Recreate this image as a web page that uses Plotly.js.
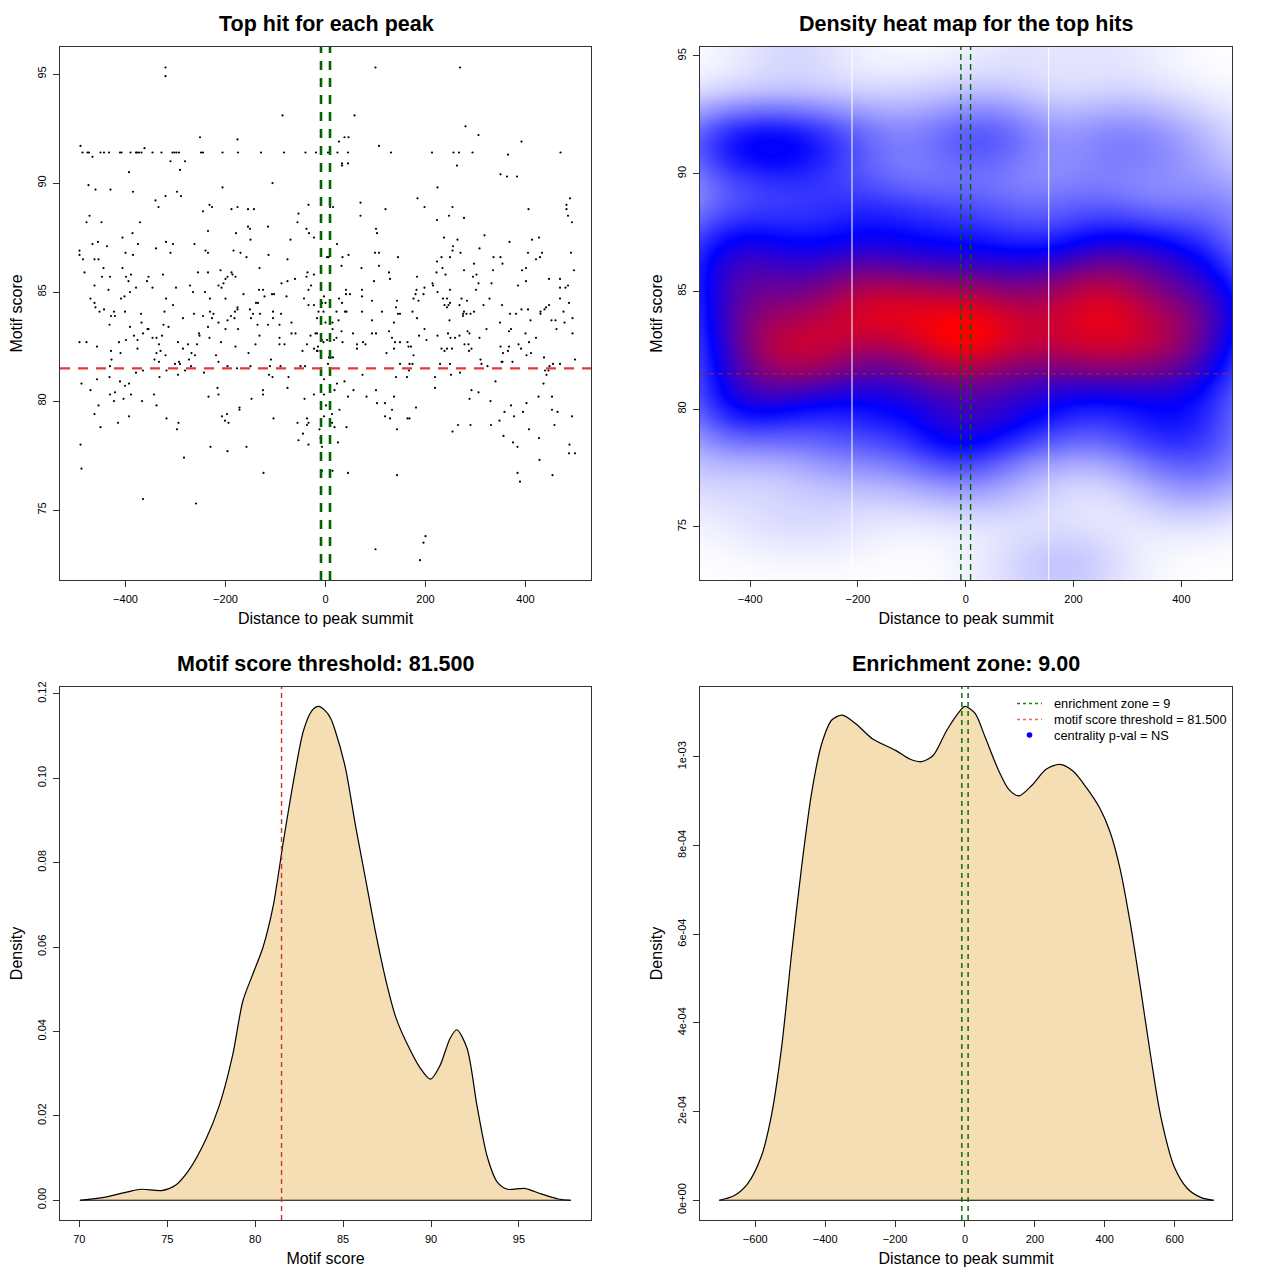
<!DOCTYPE html>
<html><head><meta charset="utf-8">
<script src="https://cdn.plot.ly/plotly-3.0.1.min.js"></script>
<style>html,body{margin:0;padding:0;background:#fff}</style>
</head><body><div id="chart" style="width:1280px;height:1280px"></div>
<script>
// ---- data ----
const enrichmentZone = 9;
const scoreThreshold = 81.5;

// top hit per peak: [distance to summit, motif score]
const topHitPairs = [
[-320,95.3],[-320,94.9],[-86,93.1],[-251,92.1],[-176,92.0],[-490,91.7],[-362,91.6],
[-486,91.4],[-476,91.4],[-473,91.4],[-450,91.4],[-443,91.4],[-433,91.4],[-411,91.4],[-408,91.4],[-390,91.4],[-379,91.4],[-377,91.4],[-373,91.4],[-368,91.4],[-346,91.4],[-328,91.4],[-306,91.4],[-302,91.4],[-298,91.4],[-293,91.4],[-249,91.4],[-245,91.4],[-206,91.4],[-175,91.4],[-129,91.4],[-83,91.4],[-40,91.4],[-19,91.4],
[-466,91.2],[-310,91.0],[-281,91.0],[-291,90.6],[-393,90.5],[-106,90.0],[-474,89.9],[-460,89.7],[-430,89.7],[-385,89.6],[-206,89.8],[-297,89.6],[-289,89.4],[-320,89.4],[-340,89.2],[-334,88.9],[-232,89.0],[-227,88.9],[-245,88.7],[-188,88.8],[-176,88.9],[-155,88.8],[-143,88.8],[-34,89.0],[-54,88.6],[-472,88.5],[-478,88.2],[-448,88.2],[-371,88.2],[-56,88.2],[-155,88.0],[-151,87.9],[-115,88.0],[-38,87.9],[-235,87.8],[-386,87.7],[-179,87.7],[-406,87.5],[-23,87.5],[-33,87.7],[-150,87.4],[-70,87.4],[-455,87.3],[-466,87.2],[-375,87.2],[-319,87.3],[-305,87.2],[-262,87.2],[-437,87.1],[-492,86.9],[-492,86.7],[-485,86.5],[-462,86.5],[-454,86.5],[-339,87.0],[-400,86.8],[-385,86.7],[-310,86.8],[-240,86.9],[-235,86.8],[-184,86.9],[-170,86.8],[-158,86.6],[-114,86.7],[-76,86.5],
[-482,85.9],[-444,86.1],[-406,86.1],[-447,85.7],[-431,85.7],[-399,85.7],[-389,85.8],[-354,85.7],[-325,85.8],[-255,85.9],[-235,85.9],[-210,86.0],[-188,85.9],[-186,85.8],[-180,85.7],[-196,85.7],[-200,85.6],[-132,86.1],[-36,85.9],[-23,85.8],[-38,85.7],[-61,85.6],[-76,85.5],[-88,85.4],[-394,85.5],[-357,85.5],[-462,85.3],[-434,85.1],[-379,85.2],[-346,85.2],[-299,85.2],[-271,85.3],[-265,85.0],[-241,85.0],[-214,85.3],[-208,85.2],[-204,85.4],[-133,85.1],[-125,85.1],[-29,85.3],[-34,85.1],[-391,85.0],[-164,84.9],[-107,84.9],[-103,84.9],[-122,84.8],[-78,84.8],[-470,84.7],[-409,84.7],[-402,84.8],[-319,84.7],[-231,84.7],[-200,84.7],[-43,84.7],[-462,84.5],[-139,84.5],[-135,84.5],[-305,84.4],[-34,84.4],[-23,84.4],
[-460,84.3],[-452,84.1],[-443,84.2],[-423,84.1],[-429,83.9],[-421,83.9],[-401,84.1],[-369,84.0],[-322,84.1],[-263,84.0],[-245,83.9],[-231,84.1],[-224,84.0],[-189,83.9],[-181,84.1],[-176,84.2],[-176,84.3],[-151,84.2],[-145,84.0],[-131,84.0],[-105,84.1],[-89,84.0],
[100,95.3],[269,95.3],[58,93.1],[280,92.6],[306,92.2],[38,92.1],[46,92.1],[27,91.9],[392,91.9],[107,91.7],
[5,91.4],[24,91.4],[45,91.4],[131,91.4],[213,91.4],[256,91.4],[267,91.4],[294,91.4],[470,91.4],
[365,91.3],[33,90.9],[33,90.8],[45,90.9],[263,90.8],[350,90.4],[363,90.3],[383,90.3],[224,89.8],[184,89.3],[489,89.3],[70,89.1],[482,89.0],[482,88.8],[485,88.5],[493,88.2],[9,88.9],[15,88.9],[198,88.9],[254,88.9],[120,88.8],[406,88.8],[70,88.5],[247,88.5],[277,88.4],[223,88.3],[101,87.9],[103,87.7],[318,87.6],[237,87.5],[264,87.4],[368,87.3],[413,87.4],[427,87.5],[23,87.2],[255,87.1],[254,86.9],[308,87.0],[270,86.8],[99,86.8],[107,86.8],[405,86.8],[433,86.8],[491,86.8],[6,86.6],[34,86.6],[46,86.7],[145,86.6],[232,86.6],[249,86.6],[336,86.6],[350,86.6],[421,86.5],[429,86.6],[223,86.4],[297,86.3],[354,86.3],[32,86.2],[107,86.2],[72,86.1],[234,86.1],[277,86.0],[335,86.0],[393,86.0],[401,86.1],[497,86.0],
[127,85.9],[222,85.9],[240,85.8],[302,85.8],[295,85.7],[183,85.7],[129,85.6],[447,85.6],[469,85.6],[97,85.5],[401,85.5],[214,85.4],[215,85.3],[306,85.4],[332,85.4],[385,85.3],[469,85.2],[480,85.2],[485,85.3],[198,85.2],[249,85.1],[301,85.1],[41,85.1],[73,85.1],[182,85.1],[180,84.9],[224,85.0],[41,84.9],[49,84.9],[196,84.9],[73,84.8],
[27,84.7],[176,84.7],[235,84.7],[243,84.7],[272,84.7],[328,84.7],[469,84.7],[93,84.6],[143,84.6],[186,84.6],[283,84.6],[33,84.5],[487,84.5],[249,84.5],[238,84.4],[246,84.4],[268,84.4],[316,84.4],[353,84.4],[447,84.4],[141,84.3],[441,84.3],[438,84.2],[243,84.3],[392,84.2],[405,84.2],
[22,84.1],[39,84.1],[42,84.1],[73,84.1],[113,84.1],[174,84.1],[277,84.1],[297,84.1],[430,84.1],[476,84.1],[145,84.0],[149,84.0],[275,84.0],[282,84.0],[290,84.0],[369,84.0],[381,84.0],[430,84.0],[275,83.9],
[-285,83.8],[-227,83.8],[-432,83.5],[-391,83.4],[-368,83.6],[-324,83.5],[-314,83.4],[-235,83.4],[-214,83.6],[-196,83.7],[-200,83.3],[-182,83.8],[-149,83.8],[-136,83.5],[-115,83.5],[-105,83.8],[-92,83.5],[-68,83.6],[-175,83.3],[-365,83.1],[-356,83.3],[-354,83.3],[-383,83.0],[-376,82.8],[-346,82.9],[-338,82.9],[-327,83.0],[-253,83.1],[-252,83.0],[-232,82.9],[-132,83.0],[-92,82.9],[-68,83.1],[-60,83.1],[-30,83.0],[-17,83.1],
[-492,82.7],[-478,82.7],[-413,82.7],[-399,82.8],[-333,82.6],[-295,82.7],[-275,82.6],[-257,82.6],[-209,82.7],[-180,82.5],[-140,82.6],[-92,82.6],[-82,82.6],[-37,82.6],[-457,82.5],[-376,82.4],[-285,82.4],[-429,82.3],[-410,82.2],[-330,82.3],[-338,82.2],[-268,82.2],[-261,82.1],[-219,82.1],[-214,81.8],[-154,82.2],[-109,81.9],[-46,82.3],[-23,82.4],[-16,82.3],[-15,82.5],[-320,82.1],
[-428,81.9],[-342,81.9],[-333,81.8],[-293,81.8],[-291,81.7],[-301,81.7],[-273,81.9],[-431,81.6],[-281,81.4],[-269,81.6],[-318,81.4],[-243,81.3],[-196,81.6],[-177,81.5],[-150,81.6],[-111,81.6],[-90,81.6],[-50,81.6],[-41,81.6],[-379,81.3],[-365,81.4],[-295,81.2],[-332,81.1],[-457,81.0],[-432,81.1],[-113,81.2],[-106,81.1],[-74,81.1],
[-411,80.9],[-401,80.7],[-393,80.8],[-488,80.8],[-470,80.5],[-421,80.4],[-431,80.3],[-423,80.0],[-404,80.1],[-389,80.3],[-367,80.0],[-343,80.3],[-338,79.8],[-216,80.6],[-214,80.3],[-234,80.2],[-148,80.1],[-125,80.5],[-125,80.3],[-76,80.6],[-42,80.1],[-23,80.3],
[-454,79.8],[-462,79.4],[-450,78.8],[-415,79.0],[-393,79.3],[-318,79.2],[-294,79.0],[-297,78.7],[-207,79.3],[-197,79.4],[-201,79.1],[-194,79.0],[-172,79.7],[-172,79.6],[-104,79.2],[-56,79.0],[-37,79.2],[-37,78.9],[-34,79.0],[-45,78.5],[-54,78.2],[-34,78.0],[-490,78.0],[-230,77.9],[-158,77.9],[-196,77.7],[-283,77.4],[-488,76.9],[-124,76.7],[-365,75.5],[-259,75.3],[-10,78.3],
[26,83.7],[93,83.7],[137,83.6],[183,83.8],[248,83.7],[349,83.6],[410,83.7],[452,83.7],[460,83.7],[478,83.6],[494,83.8],[14,83.3],[32,83.2],[55,83.1],[93,83.1],[101,83.1],[127,83.2],[133,82.9],[187,83.0],[198,83.3],[202,82.8],[224,83.0],[245,83.1],[250,82.9],[259,82.9],[268,83.0],[284,83.2],[288,83.1],[308,82.9],[322,83.3],[367,83.2],[371,83.3],[400,83.1],[421,82.9],[462,83.3],[494,83.1],
[17,82.8],[22,82.9],[34,82.7],[63,82.6],[75,82.7],[80,82.6],[63,82.4],[139,82.7],[149,82.7],[137,82.4],[164,82.7],[166,82.5],[171,82.5],[176,82.1],[122,82.2],[232,82.4],[238,82.3],[243,82.4],[253,82.4],[278,82.6],[286,82.6],[287,82.3],[292,82.4],[310,81.9],[312,81.7],[324,81.6],[350,82.5],[355,82.2],[365,82.3],[367,82.5],[352,81.8],[354,81.8],[374,81.8],[386,82.6],[391,82.4],[402,82.1],[407,82.7],[411,82.2],[437,82.0],[499,81.9],
[5,81.7],[10,82.0],[15,82.0],[149,81.7],[168,81.7],[174,81.7],[167,81.4],[229,81.7],[249,81.7],[448,81.6],[455,81.7],[469,81.7],[439,81.4],[446,81.4],[442,81.2],[269,81.3],[251,81.2],[74,81.2],[141,81.1],[163,81.1],[219,81.1],
[23,80.8],[38,80.9],[340,80.9],[436,80.8],[18,80.5],[56,80.5],[101,80.5],[219,80.6],[292,80.5],[306,80.4],[45,80.2],[82,80.2],[137,80.2],[288,80.1],[330,80.0],[426,80.2],[453,80.2],
[103,79.9],[119,79.9],[181,79.7],[371,79.8],[402,79.9],[28,79.6],[133,79.6],[358,79.5],[395,79.5],[453,79.6],[464,79.5],[119,79.3],[129,79.2],[164,79.2],[168,79.2],[377,79.3],[493,79.3],[348,79.1],[13,79.0],[18,78.8],[42,78.8],[265,78.9],[290,78.9],[331,78.9],[458,78.9],[143,78.7],[407,78.7],[254,78.6],[356,78.4],[427,78.3],[25,78.1],[375,78.1],[384,77.9],[488,78.0],[487,77.6],[499,77.6],[428,77.3],
[14,76.8],[45,76.7],[143,76.6],[384,76.7],[389,76.3],[454,76.6],[200,73.8],[196,73.5],[100,73.2],[189,72.7],
// hits seen between the two enrichment-zone lines
[3,86.6],[-3,84.8],[-7,84.5],[0,84.5],[-14,84.1],[-4,84.1],[-17,83.8],[0,83.6],[14,83.6],[-20,83.1],[-7,82.8],[-4,82.7],[3,82.8],[-17,82.3],[-10,82.3],[7,82.0],[10,82.0],[-3,81.0],[-3,80.3],[1,79.8],[-3,79.3],[13,79.4],[-12,78.7],[-7,77.9],[-7,76.8]
];

// density of motif score
const scoreGrid =    [70.03,71.42,72.76,73.53,74.68,75.45,76.22,77.18,77.95,78.72,79.30,79.87,80.45,81.02,81.60,82.18,82.75,83.23,83.60,83.98,84.29,84.55,85.13,85.70,86.28,86.86,87.44,88.01,88.58,89.36,89.97,90.51,91.09,91.47,92.05,92.62,93.20,93.77,94.35,95.31,96.27,97.23,97.95];
const scoreDensity = [0,0.0007,0.0020,0.0026,0.0023,0.0035,0.0071,0.0143,0.0223,0.0344,0.0472,0.0536,0.0600,0.0696,0.0849,0.0993,0.1113,0.1160,0.1170,0.1160,0.1142,0.1113,0.1025,0.0889,0.0761,0.0632,0.0520,0.0432,0.0376,0.0315,0.0287,0.0319,0.0384,0.0404,0.0360,0.0223,0.0103,0.0043,0.0026,0.0028,0.0015,0.0003,0];

// density of distance to summit
const distGrid =    [-703,-661,-622,-583,-554,-525,-496,-467,-438,-410,-381,-351,-313,-265,-197,-158,-125,-91,-52,-13,0,29,58,97,126,155,193,232,271,309,348,386,415,444,473,502,531,560,599,637,676,712];
const distDensity = [0,1.0e-5,3.7e-5,9.8e-5,1.9e-4,3.42e-4,5.56e-4,7.54e-4,9.22e-4,1.029e-3,1.083e-3,1.094e-3,1.075e-3,1.041e-3,1.014e-3,9.95e-4,9.89e-4,1.003e-3,1.060e-3,1.105e-3,1.114e-3,1.098e-3,1.044e-3,9.68e-4,9.26e-4,9.12e-4,9.37e-4,9.72e-4,9.83e-4,9.68e-4,9.30e-4,8.84e-4,8.31e-4,7.47e-4,6.25e-4,4.80e-4,3.27e-4,1.90e-4,7.5e-5,2.6e-5,6e-6,0];

const legendLabels = ['enrichment zone = 9', 'motif score threshold = 81.500', 'centrality p-val = NS'];
const panelTitles = ['Top hit for each peak','Density heat map for the top hits','Motif score threshold: 81.500','Enrichment zone: 9.00'];
const distTicks = [-400,-200,0,200,400];
const distTicksWide = [-600,-400,-200,0,200,400,600];
const scoreTicks = [75,80,85,90,95];
const scoreTicksX = [70,75,80,85,90,95];
const densScoreTicks = [0,0.02,0.04,0.06,0.08,0.10,0.12];
const densDistTicks = [0,2e-4,4e-4,6e-4,8e-4,1e-3];
const densDistTickText = ['0e+00','2e-04','4e-04','6e-04','8e-04','1e-03'];

// ---- derived ----
const hitDistance = topHitPairs.map(p => p[0]);
const hitScore = topHitPairs.map(p => p[1]);

// smoothed 2D kernel density of the hits (heat map)
const heatX = [-493, 494], heatY = [72.74, 95.38];
const bwX = 78, bwY = 1.15;
const NB = 128;
const gx = [], gy = [];
for (let i=0;i<NB;i++){ gx.push(heatX[0] + (heatX[1]-heatX[0])*(i+0.5)/NB); gy.push(heatY[0] + (heatY[1]-heatY[0])*(i+0.5)/NB); }
const z = gy.map(()=>new Array(NB).fill(0));
for (let k=0;k<hitDistance.length;k++){
  const kx = gx.map(v=>Math.exp(-0.5*((v-hitDistance[k])/bwX)**2));
  const ky = gy.map(v=>Math.exp(-0.5*((v-hitScore[k])/bwY)**2));
  for (let j=0;j<NB;j++){ if (ky[j]<1e-6) continue; const row=z[j]; const w=ky[j]; for (let i=0;i<NB;i++) row[i]+=w*kx[i]; }
}
let zmax = 0; z.forEach(r=>r.forEach(v=>{ if(v>zmax) zmax=v; }));
const zt = z.map(r=>r.map(v=>Math.pow(v/zmax,0.8)));

const FONT = 'Liberation Sans, Arial, Helvetica, sans-serif';
const W = 1280;
const dom = (a,b)=>[a/W, b/W];
const vdom = (top,bot)=>[1-bot/W, 1-top/W];

function axisBase(extra){
  return Object.assign({
    showline:true, mirror:true, linecolor:'#333', linewidth:1,
    ticks:'outside', ticklen:6, tickwidth:1, tickcolor:'#333',
    tickfont:{size:11, family:FONT, color:'#000'},
    showgrid:false, zeroline:false, automargin:false, ticklabelstandoff:3
  }, extra);
}
function xt(text){ return {text:text, font:{size:16, family:FONT, color:'#000'}, standoff:8}; }
function yt(text){ return {text:text, font:{size:16, family:FONT, color:'#000'}, standoff:8}; }

const traces = [
  {type:'scatter', mode:'markers', x:hitDistance, y:hitScore, xaxis:'x', yaxis:'y',
   marker:{size:2.2, color:'#000'}, showlegend:false, hoverinfo:'skip'},
  {type:'heatmap', x:gx, y:gy, z:zt, xaxis:'x2', yaxis:'y2', zmin:0, zmax:1, zsmooth:'best',
   colorscale:[[0,'rgb(255,255,255)'],[0.5,'rgb(0,0,255)'],[1,'rgb(255,0,0)']], showscale:false, hoverinfo:'skip'},
  {type:'scatter', mode:'lines', x:scoreGrid, y:scoreDensity, xaxis:'x3', yaxis:'y3', fill:'tozeroy',
   fillcolor:'#F5DEB3', line:{color:'#000', width:1.2, shape:'spline', smoothing:0.8}, showlegend:false, hoverinfo:'skip'},
  {type:'scatter', mode:'lines', x:distGrid, y:distDensity, xaxis:'x4', yaxis:'y4', fill:'tozeroy',
   fillcolor:'#F5DEB3', line:{color:'#000', width:1.2, shape:'spline', smoothing:0.8}, showlegend:false, hoverinfo:'skip'}
];

const shapes = [];
// panel 1
[-enrichmentZone, enrichmentZone].forEach(v=>shapes.push({type:'line', xref:'x', yref:'y domain', x0:v, x1:v, y0:0, y1:1, line:{color:'#006400', width:2.6, dash:'9px,8px'}}));
shapes.push({type:'line', xref:'x domain', yref:'y', x0:0, x1:1, y0:scoreThreshold, y1:scoreThreshold, line:{color:'rgb(228,58,58)', width:2.2, dash:'10px,8px'}});
// panel 2 (white seams of the raster image, then lines)
[-211, 154].forEach(v=>shapes.push({type:'line', xref:'x2', yref:'y2 domain', x0:v, x1:v, y0:0, y1:1, line:{color:'#FFFFFF', width:1}}));
[-enrichmentZone, enrichmentZone].forEach(v=>shapes.push({type:'line', xref:'x2', yref:'y2 domain', x0:v, x1:v, y0:0, y1:1, line:{color:'#006400', width:1.4, dash:'6px,4px'}}));
shapes.push({type:'line', xref:'x2 domain', yref:'y2', x0:0, x1:1, y0:scoreThreshold, y1:scoreThreshold, line:{color:'rgb(175,35,35)', width:1.2, dash:'5px,4px'}});
// panel 3
shapes.push({type:'line', xref:'x3', yref:'y3', x0:scoreGrid[0], x1:scoreGrid[scoreGrid.length-1], y0:0, y1:0, line:{color:'#000', width:1.2}});
shapes.push({type:'line', xref:'x3', yref:'y3 domain', x0:scoreThreshold, x1:scoreThreshold, y0:0, y1:1, line:{color:'rgb(200,50,50)', width:1.4, dash:'5px,4px'}});
// panel 4
shapes.push({type:'line', xref:'x4', yref:'y4', x0:distGrid[0], x1:distGrid[distGrid.length-1], y0:0, y1:0, line:{color:'#000', width:1.2}});
[-enrichmentZone, enrichmentZone].forEach(v=>shapes.push({type:'line', xref:'x4', yref:'y4 domain', x0:v, x1:v, y0:0, y1:1, line:{color:'#006400', width:1.4, dash:'5px,4px'}}));

// legend of panel 4 (R-style, drawn in paper coordinates)
const legRows = [703.5, 719.5, 735];
const legX0 = 1017, legX1 = 1042, legTextX = 1052;
shapes.push({type:'line', xref:'paper', yref:'paper', x0:legX0/W, x1:legX1/W, y0:1-legRows[0]/W, y1:1-legRows[0]/W, line:{color:'#1E7A1E', width:1.5, dash:'dot'}});
shapes.push({type:'line', xref:'paper', yref:'paper', x0:legX0/W, x1:legX1/W, y0:1-legRows[1]/W, y1:1-legRows[1]/W, line:{color:'#F06060', width:1.5, dash:'dot'}});
shapes.push({type:'circle', xref:'paper', yref:'paper', x0:(1029.5-2.8)/W, x1:(1029.5+2.8)/W, y0:1-(legRows[2]+2.8)/W, y1:1-(legRows[2]-2.8)/W, fillcolor:'#0000FF', line:{color:'#0000FF', width:0}});

const titlePos = [[326,24],[966,24],[326,664],[966,664]];
const annotations = panelTitles.map((t,i)=>({text:'<b>'+t+'</b>', xref:'paper', yref:'paper', x:titlePos[i][0]/W, y:1-titlePos[i][1]/W,
  xanchor:'center', yanchor:'middle', showarrow:false, font:{size:21.5, family:FONT, color:'#000'}}));
legendLabels.forEach((t,i)=>annotations.push({text:t, xref:'paper', yref:'paper', x:legTextX/W, y:1-legRows[i]/W,
  xanchor:'left', yanchor:'middle', showarrow:false, font:{size:12.8, family:FONT, color:'#000'}}));

const layout = {
  width:1280, height:1280, autosize:false, margin:{l:0,r:0,t:0,b:0},
  paper_bgcolor:'#fff', plot_bgcolor:'#fff', font:{family:FONT, color:'#000'},
  showlegend:false,
  xaxis: axisBase({domain:dom(60,591), anchor:'y', range:[-531,531], tickvals:distTicks, title:xt('Distance to peak summit')}),
  yaxis: axisBase({domain:vdom(47,580), anchor:'x', range:[71.79,96.24], tickvals:scoreTicks, tickangle:-90, title:yt('Motif score')}),
  xaxis2: axisBase({domain:dom(700,1232), anchor:'y2', range:heatX, tickvals:distTicks, title:xt('Distance to peak summit')}),
  yaxis2: axisBase({domain:vdom(47,580), anchor:'x2', range:heatY, tickvals:scoreTicks, tickangle:-90, title:yt('Motif score')}),
  xaxis3: axisBase({domain:dom(60,591), anchor:'y3', range:[68.9,99.1], tickvals:scoreTicksX, title:xt('Motif score')}),
  yaxis3: axisBase({domain:vdom(687,1220), anchor:'x3', range:[-0.00468,0.1216], tickvals:densScoreTicks, tickformat:'.2f', tickangle:-90, title:yt('Density')}),
  xaxis4: axisBase({domain:dom(700,1232), anchor:'y4', range:[-758,764], tickvals:distTicksWide, title:xt('Distance to peak summit')}),
  yaxis4: axisBase({domain:vdom(687,1220), anchor:'x4', range:[-4.45e-5,1.1575e-3], tickvals:densDistTicks, ticktext:densDistTickText, tickangle:-90, title:yt('Density')}),
  shapes:shapes, annotations:annotations
};
Plotly.newPlot('chart', traces, layout, {staticPlot:true, displayModeBar:false});
</script></body></html>
